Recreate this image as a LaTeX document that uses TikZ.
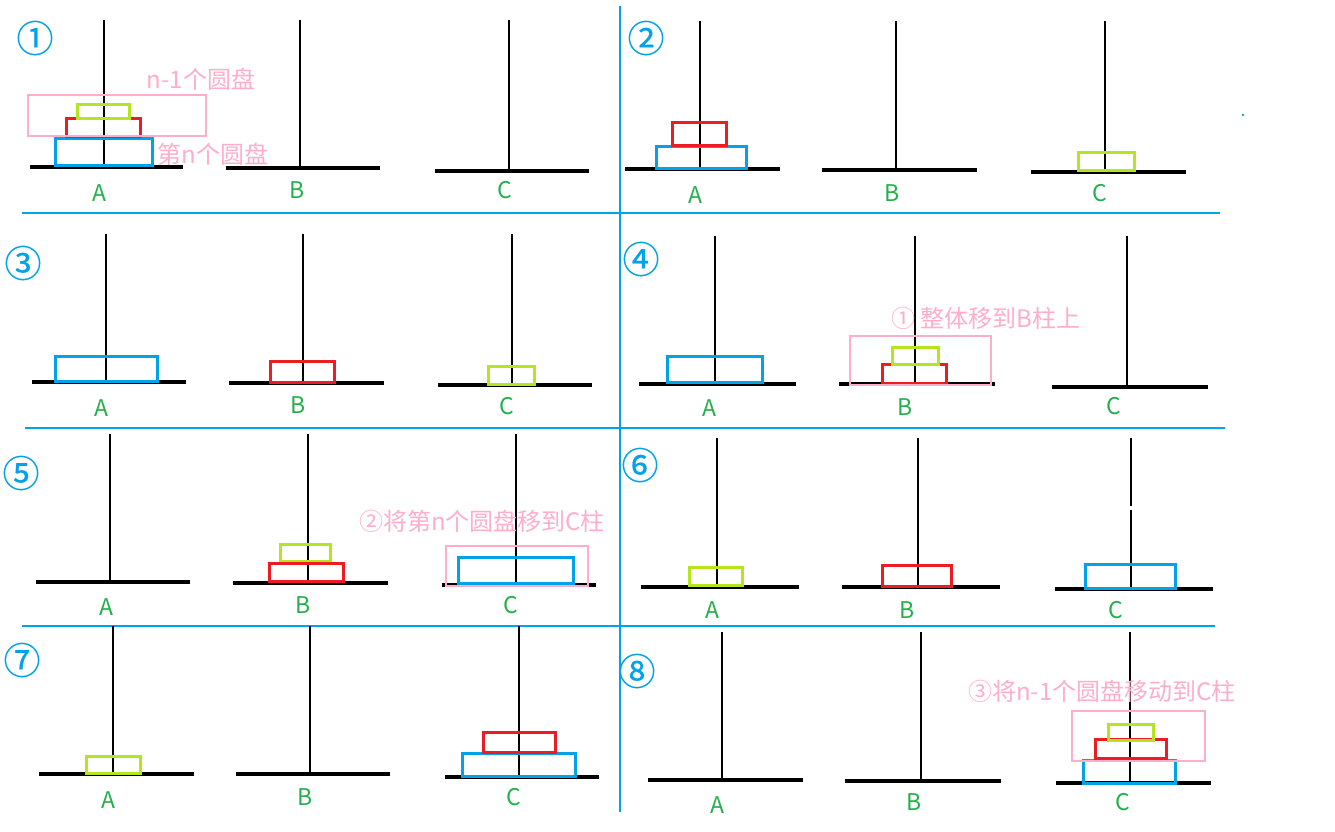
\documentclass[tikz,border=0pt]{standalone}
\usepackage{fontspec}
\newfontfamily\cjk{Noto Sans CJK SC}
\newfontfamily\circnum[FakeBold=0.4]{Noto Sans CJK SC}
\definecolor{pblue}{RGB}{0,162,232}
\definecolor{pred}{RGB}{237,28,36}
\definecolor{plime}{RGB}{181,230,29}
\definecolor{ppink}{RGB}{255,174,201}
\definecolor{pgreen}{RGB}{34,177,76}
\begin{document}
\begin{tikzpicture}[x=1pt,y=-1pt,
 pole/.style={line width=2.8pt,black},
 base/.style={line width=3.5pt,black},
 divider/.style={line width=2.5pt,pblue},
 bdisk/.style={line width=3pt,draw=pblue},
 rdisk/.style={line width=3pt,draw=pred},
 gdisk/.style={line width=3pt,draw=plime},
 grp/.style={line width=2.5pt,draw=ppink},
 lbl/.style={text=pgreen,font=\cjk\fontsize{23}{23}\selectfont,inner sep=0},
 stepnum/.style={text=pblue,font=\circnum\fontsize{37}{37}\selectfont,inner sep=0},
 note/.style={text=ppink,font=\cjk\fontsize{24}{24}\selectfont,inner sep=0}]
\fill[white] (0,0) rectangle (1335,831);
\useasboundingbox (0,0) rectangle (1335,831);
% dividers
\draw[divider] (620,6) -- (620,812);
\draw[divider] (22,213) -- (1220,213);
\draw[divider] (25,428) -- (1225,428);
\draw[divider] (22,626) -- (1215,626);
\fill[pblue] (1243,115) circle (1.3);

% ---------- panel 1
\node[stepnum] (n1) at (35,38) {①};
\draw[pole] (104,20) -- (104,167);
\draw[base] (30,167) -- (183,167);
\draw[pole] (300,20) -- (300,168);
\draw[base] (226,168) -- (380,168);
\draw[pole] (509,20) -- (509,171);
\draw[base] (435,171) -- (589,171);
\draw[bdisk] (55,138) rectangle (152,165);
\draw[rdisk] (66,118) rectangle (140,136);
\draw[gdisk] (77,104) rectangle (129,118);
\draw[grp] (28,95) rectangle (206,136);
\node[note] (t1a) at (201,79) {n-1个圆盘};
\node[note] (t1b) at (213,154) {第n个圆盘};
\node[lbl] (a1) at (99,193) {A};
\node[lbl] (b1) at (297,190) {B};
\node[lbl] (c1) at (505,190) {C};

% ---------- panel 2
\node[stepnum] (n2) at (646,38) {②};
\draw[pole] (700,21) -- (700,169);
\draw[base] (625,169) -- (780,169);
\draw[pole] (896,21) -- (896,170);
\draw[base] (822,170) -- (977,170);
\draw[pole] (1105,21) -- (1105,172);
\draw[base] (1031,172) -- (1186,172);
\draw[bdisk] (656,146) rectangle (746,168);
\draw[rdisk] (672,122) rectangle (726,145);
\draw[gdisk] (1078,152) rectangle (1134,170);
\node[lbl] (a2) at (695,195) {A};
\node[lbl] (b2) at (892,193) {B};
\node[lbl] (c2) at (1100,193) {C};

% ---------- panel 3
\node[stepnum] (n3) at (23,263) {③};
\draw[pole] (106,234) -- (106,382);
\draw[base] (32,382) -- (186,382);
\draw[pole] (303,234) -- (303,383);
\draw[base] (229,383) -- (384,383);
\draw[pole] (512,234) -- (512,385);
\draw[base] (438,385) -- (592,385);
\draw[bdisk] (55,356) rectangle (157,381);
\draw[rdisk] (270,361) rectangle (334,382);
\draw[gdisk] (488,366) rectangle (534,384);
\node[lbl] (a3) at (101,408) {A};
\node[lbl] (b3) at (298,405) {B};
\node[lbl] (c3) at (507,406) {C};

% ---------- panel 4
\node[stepnum] (n4) at (641,259) {④};
\draw[pole] (715,236) -- (715,384);
\draw[base] (639,384) -- (796,384);
\draw[pole] (915,236) -- (915,384);
\draw[base] (839,384) -- (995,384);
\draw[pole] (1127,236) -- (1127,387);
\draw[base] (1052,387) -- (1208,387);
\draw[bdisk] (667,356) rectangle (762,382);
\draw[rdisk] (882,364) rectangle (946,383);
\draw[gdisk] (892,347) rectangle (938,364);
\draw[grp] (850,336) rectangle (991,385);
\node[note] (t4) at (986,318) {① 整体移到B柱上};
\node[lbl] (a4) at (709,408) {A};
\node[lbl] (b4) at (905,407) {B};
\node[lbl] (c4) at (1114,406) {C};

% ---------- panel 5
\node[stepnum] (n5) at (21,473) {⑤};
\draw[pole] (110,434) -- (110,582);
\draw[base] (36,582) -- (190,582);
\draw[pole] (308,434) -- (308,583);
\draw[base] (233,583) -- (388,583);
\draw[pole] (516,434) -- (516,585);
\draw[base] (442,585) -- (596,585);
\draw[gdisk] (280,544) rectangle (330,561);
\draw[rdisk] (269,563) rectangle (343,581);
\draw[bdisk] (458,557) rectangle (573,583);
\draw[grp] (446,546) rectangle (588,586);
\node[note] (t5) at (482,521) {②将第n个圆盘移到C柱};
\node[lbl] (a5) at (106,607) {A};
\node[lbl] (b5) at (303,605) {B};
\node[lbl] (c5) at (511,605) {C};

% ---------- panel 6
\node[stepnum] (n6) at (640,465) {⑥};
\draw[pole] (717,438) -- (717,587);
\draw[base] (641,587) -- (799,587);
\draw[pole] (918,438) -- (918,587);
\draw[base] (842,587) -- (1000,587);
\draw[pole] (1131,438) -- (1131,506);
\draw[pole] (1131,510) -- (1131,589);
\draw[base] (1055,589) -- (1213,589);
\draw[gdisk] (689,567) rectangle (742,585);
\draw[rdisk] (882,565) rectangle (951,586);
\draw[bdisk] (1085,564) rectangle (1175,588);
\node[lbl] (a6) at (712,610) {A};
\node[lbl] (b6) at (907,610) {B};
\node[lbl] (c6) at (1116,610) {C};

% ---------- panel 7
\node[stepnum] (n7) at (22,660) {⑦};
\draw[pole] (113,626) -- (113,772);
\draw[base] (39,774) -- (194,774);
\draw[pole] (310,626) -- (310,774);
\draw[base] (236,774) -- (390,774);
\draw[pole] (519,626) -- (519,777);
\draw[base] (445,777) -- (599,777);
\draw[gdisk] (86,756) rectangle (140,773);
\draw[bdisk] (462,753) rectangle (575,776);
\draw[rdisk] (483,732) rectangle (555,752);
\node[lbl] (a7) at (108,800) {A};
\node[lbl] (b7) at (305,797) {B};
\node[lbl] (c7) at (514,797) {C};

% ---------- panel 8
\node[stepnum] (n8) at (637,671) {⑧};
\draw[pole] (722,632) -- (722,780);
\draw[base] (648,780) -- (803,780);
\draw[pole] (921,632) -- (921,781);
\draw[base] (845,781) -- (1001,781);
\draw[pole] (1130,632) -- (1130,783);
\draw[base] (1056,783) -- (1211,783);
\draw[bdisk] (1083,760) rectangle (1175,783);
\draw[rdisk] (1095,739) rectangle (1166,758);
\draw[gdisk] (1108,724) rectangle (1153,740);
\draw[grp] (1072,711) rectangle (1205,761);
\node[note] (t8) at (1102,691) {③将n-1个圆盘移动到C柱};
\node[lbl] (a8) at (717,805) {A};
\node[lbl] (b8) at (914,802) {B};
\node[lbl] (c8) at (1123,802) {C};
\end{tikzpicture}
\end{document}
